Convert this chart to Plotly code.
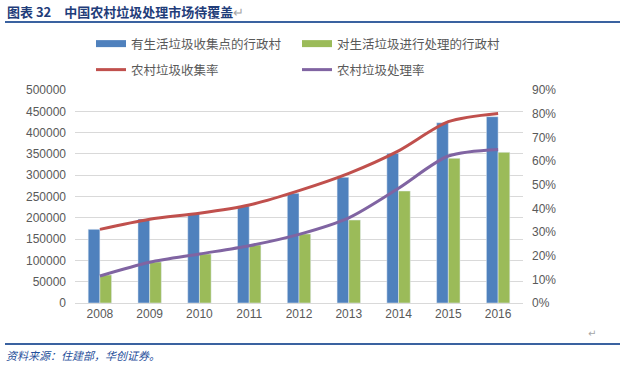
import plotly.graph_objects as go

years = ["2008", "2009", "2010", "2011", "2012", "2013", "2014", "2015", "2016"]
collect_villages = [173000, 197000, 210500, 227700, 257400, 295000, 351300, 423200, 437300]
treat_villages = [65700, 96200, 115000, 136100, 162000, 194800, 262900, 339600, 353700]
collect_rate = [0.311, 0.354, 0.379, 0.414, 0.475, 0.548, 0.643, 0.766, 0.801]
treat_rate = [0.114, 0.172, 0.207, 0.242, 0.290, 0.360, 0.485, 0.621, 0.649]

names = ["有生活垃圾收集点的行政村", "对生活垃圾进行处理的行政村", "农村垃圾收集率", "农村垃圾处理率"]
colors = ["#4F81BD", "#9BBB59", "#C0504D", "#8064A2"]

W, H = 620, 369
L, R, T, B = 75, 97, 90, 66
PW, PH = W - L - R, H - T - B

def px(x):
    return (x - L) / PW

def py(y):
    return (H - B - y) / PH

fig = go.Figure()
fig.add_trace(go.Bar(x=years, y=collect_villages, name=names[0], marker_color=colors[0],
                     showlegend=False))
fig.add_trace(go.Bar(x=years, y=treat_villages, name=names[1], marker_color=colors[1],
                     showlegend=False))
fig.add_trace(go.Scatter(x=years, y=collect_rate, name=names[2], yaxis="y2", mode="lines",
                         line=dict(color=colors[2], width=3, shape="spline", smoothing=0.8),
                         legend="legend2"))
fig.add_trace(go.Scatter(x=years, y=treat_rate, name=names[3], yaxis="y2", mode="lines",
                         line=dict(color=colors[3], width=3, shape="spline", smoothing=0.8),
                         legend="legend2"))
# legend entries for the bars (drawn as thick swatches)
for i in range(2):
    fig.add_trace(go.Scatter(x=[None], y=[None], name=names[i], mode="lines",
                             line=dict(color=colors[i], width=7), legend="legend"))

legend_common = dict(orientation="h", xref="paper", yref="paper",
                     xanchor="left", yanchor="middle", entrywidth=161, entrywidthmode="pixels",
                     font=dict(family="Noto Sans CJK SC", size=12.5, color="#595959"),
                     bgcolor="rgba(0,0,0,0)", itemwidth=30, traceorder="normal")

fig.update_layout(
    width=W, height=H,
    margin=dict(l=L, r=R, t=T, b=B, autoexpand=False),
    paper_bgcolor="white", plot_bgcolor="white",
    barmode="group", bargap=0.53, bargroupgap=0,
    font=dict(family="Liberation Sans, Arial", size=12, color="#595959"),
    xaxis=dict(showgrid=False, showline=True, linecolor="#D9D9D9", ticks="",
               tickfont=dict(size=12, color="#595959")),
    yaxis=dict(range=[0, 500000], dtick=50000, showgrid=True, gridcolor="#D9D9D9",
               zeroline=False, ticks="", ticklabelstandoff=8, tickformat="d",
               tickfont=dict(size=12, color="#595959")),
    yaxis2=dict(range=[0, 0.9], dtick=0.1, overlaying="y", side="right", showgrid=False,
                zeroline=False, ticks="", tickformat=".0%", ticklabelstandoff=8,
                tickfont=dict(size=12, color="#595959")),
    legend=dict(**legend_common, x=px(91), y=py(44)),
    legend2=dict(**legend_common, x=px(91), y=py(70)),
    showlegend=True,
)

# header / footer rules
for yy in (22, 344):
    fig.add_shape(type="line", xref="paper", yref="paper", x0=px(5), x1=px(620),
                  y0=py(yy), y1=py(yy), line=dict(color="#3A62A0", width=2))

fig.add_annotation(xref="paper", yref="paper", x=px(5), y=py(11), xanchor="left", yanchor="middle",
                   showarrow=False,
                   text="<b>图表 32</b>\u3000<b>中国农村垃圾处理市场待覆盖</b><span style='color:#A6A6A6'>↵</span>",
                   font=dict(family="Noto Sans CJK SC", size=13, color="#1F3D7A"))
fig.add_annotation(xref="paper", yref="paper", x=px(4), y=py(355), xanchor="left", yanchor="middle",
                   showarrow=False,
                   text="<i>资料来源：住建部，华创证券。</i>",
                   font=dict(family="Noto Sans CJK SC", size=11, color="#1F4E9A"))
fig.add_annotation(xref="paper", yref="paper", x=px(592), y=py(333), xanchor="center", yanchor="middle",
                   showarrow=False, text="↵", font=dict(family="DejaVu Sans", size=10, color="#A6A6A6"))

fig.write_html("out.html", config={"displayModeBar": False},
               post_script="document.body.style.margin='0';")
